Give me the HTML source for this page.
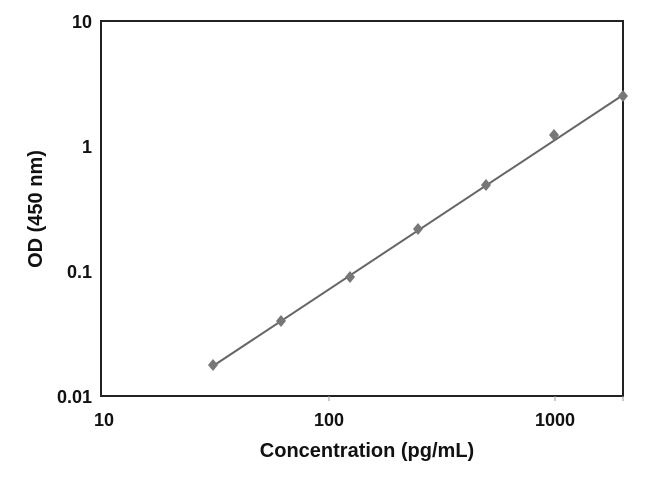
<!DOCTYPE html>
<html><head><style>body{margin:0;background:#fff}</style></head><body>
<svg width="650" height="479" xmlns="http://www.w3.org/2000/svg" font-family="Liberation Sans, sans-serif" font-weight="bold">
<rect x="101" y="21" width="522" height="375" fill="none" stroke="#222" stroke-width="2"/>
<g stroke="#999" stroke-width="1">
<line x1="329" y1="396" x2="329" y2="401"/><line x1="555" y1="396" x2="555" y2="401"/><line x1="623" y1="396" x2="623" y2="401"/>
</g>
<g font-size="18" text-anchor="end" fill="#111">
<text x="92" y="28">10</text><text x="92" y="153">1</text><text x="92" y="278">0.1</text><text x="92" y="403">0.01</text>
</g>
<g font-size="18" text-anchor="middle" fill="#111">
<text x="104" y="426">10</text><text x="329" y="426">100</text><text x="555" y="426">1000</text>
</g>
<text x="367" y="457" font-size="20" text-anchor="middle" fill="#111">Concentration (pg/mL)</text>
<text transform="translate(42,209) rotate(-90)" font-size="20" text-anchor="middle" fill="#111">OD (450 nm)</text>
<line x1="213" y1="366" x2="623" y2="95" stroke="#666" stroke-width="2"/>
<g fill="#777">
<path d="M213 359l5 6-5 6-5-6z"/>
<path d="M281 315l5 6-5 6-5-6z"/>
<path d="M350 271l5 6-5 6-5-6z"/>
<path d="M418 223l5 6-5 6-5-6z"/>
<path d="M486 179l5 6-5 6-5-6z"/>
<path d="M554 129l5 6-5 6-5-6z"/>
<path d="M623 90l5 6-5 6-5-6z"/>
</g>
</svg>
</body></html>
